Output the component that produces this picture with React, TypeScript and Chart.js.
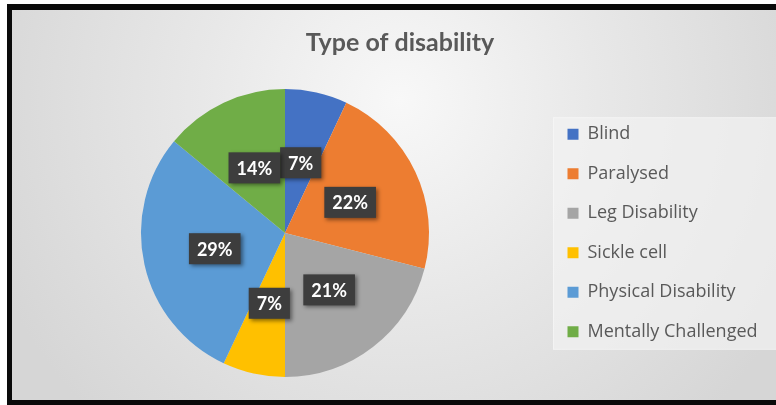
import React, { useEffect, useRef } from "react";
import { Chart, registerables } from "chart.js";

Chart.register(...registerables);

const TITLE = "Type of disability";
const categories = [
  "Blind",
  "Paralysed",
  "Leg Disability",
  "Sickle cell",
  "Physical Disability",
  "Mentally Challenged",
];
const shares = [7, 22, 21, 7, 29, 14];
const sliceColors = ["#4472C4", "#ED7D31", "#A5A5A5", "#FFC000", "#5B9BD5", "#70AD47"];

const FONT = "Lato, 'Open Sans', sans-serif";
const LEGEND_FONT = "'Open Sans', Lato, sans-serif";

const backgroundPlugin = {
  id: "bgFrame",
  beforeDraw(chart: any) {
    const { ctx, width, height } = chart;
    ctx.save();
    ctx.fillStyle = "#ffffff";
    ctx.fillRect(0, 0, width, height);
    ctx.fillStyle = "#0a0a0a";
    ctx.fillRect(7, 4, width - 7, height - 4);
    const g = ctx.createRadialGradient(400, 100, 0, 400, 100, 440);
    g.addColorStop(0, "#f8f8f8");
    g.addColorStop(0.45, "#e8e8e8");
    g.addColorStop(1, "#d6d6d6");
    ctx.fillStyle = g;
    ctx.fillRect(12, 10, width - 12, 390);

    // legend panel
    const lg = chart.legend;
    if (lg && lg.legendHitBoxes && lg.legendHitBoxes.length) {
      const hb = lg.legendHitBoxes;
      const first = hb[0];
      const last = hb[hb.length - 1];
      const x0 = 553;
      const y0 = first.top - 8;
      const y1 = last.top + last.height + 9;
      ctx.fillStyle = "rgba(242,242,242,0.7)";
      ctx.fillRect(x0, y0, width - x0, y1 - y0);
      ctx.strokeStyle = "rgba(255,255,255,0.35)";
      ctx.lineWidth = 1;
      ctx.strokeRect(x0 + 0.5, y0 + 0.5, width - x0, y1 - y0 - 1);
    }
    ctx.restore();
  },
};

const labelPlugin = {
  id: "pctLabels",
  afterDatasetsDraw(chart: any) {
    const { ctx } = chart;
    const meta = chart.getDatasetMeta(0);
    const data = chart.data.datasets[0].data as number[];
    const total = data.reduce((a, b) => a + b, 0);
    ctx.save();
    ctx.font = `bold 18px ${FONT}`;
    ctx.textAlign = "center";
    ctx.textBaseline = "middle";
    meta.data.forEach((arc: any, i: number) => {
      const { x, y } = arc.tooltipPosition();
      const text = `${Math.round((data[i] / total) * 100)}%`;
      const w = ctx.measureText(text).width + 16;
      const h = 31;
      ctx.save();
      ctx.shadowColor = "rgba(0,0,0,0.45)";
      ctx.shadowBlur = 4;
      ctx.shadowOffsetX = 2;
      ctx.shadowOffsetY = 2;
      ctx.fillStyle = "#3d3d3d";
      ctx.fillRect(x - w / 2, y - h / 2, w, h);
      ctx.restore();
      ctx.fillStyle = "#ffffff";
      ctx.fillText(text, x, y + 1);
    });
    ctx.restore();
  },
};

const legendWidthPlugin = {
  id: "legendWidth",
  afterInit(chart: any) {
    const lg = chart.legend;
    if (lg && !lg.__patched) {
      const orig = lg.fit;
      lg.fit = function () {
        orig.call(this);
        this.width = 230;
      };
      lg.__patched = true;
    }
  },
};

export default function App() {
  const ref = useRef<HTMLCanvasElement | null>(null);

  useEffect(() => {
    if (!ref.current) return;
    Chart.defaults.font.family = FONT;
    const chart = new Chart(ref.current, {
      type: "pie",
      data: {
        labels: categories,
        datasets: [
          {
            data: shares,
            backgroundColor: sliceColors,
            borderWidth: 0,
          },
        ],
      },
      options: {
        responsive: false,
        animation: false,
        events: [],
        layout: { padding: { left: 24, right: 0, top: 5, bottom: 28 } },
        plugins: {
          tooltip: { enabled: false },
          title: {
            display: true,
            text: TITLE,
            color: "#595959",
            font: { family: FONT, size: 25, weight: "bold", lineHeight: 1.2 },
            padding: { top: 23, bottom: 31 },
          },
          legend: {
            display: true,
            position: "right",
            fullSize: false,
            align: "center",
            labels: {
              boxWidth: 11,
              boxHeight: 11,
              padding: 21.5,
              color: "#595959",
              font: { family: LEGEND_FONT, size: 18 },
            },
          },
        },
      },
      plugins: [backgroundPlugin, labelPlugin, legendWidthPlugin],
    });
    return () => chart.destroy();
  }, []);

  return (
    <div style={{ position: "absolute", left: 0, top: 0, width: 776, height: 405 }}>
      <canvas ref={ref} width={776} height={405} style={{ display: "block" }} />
    </div>
  );
}
